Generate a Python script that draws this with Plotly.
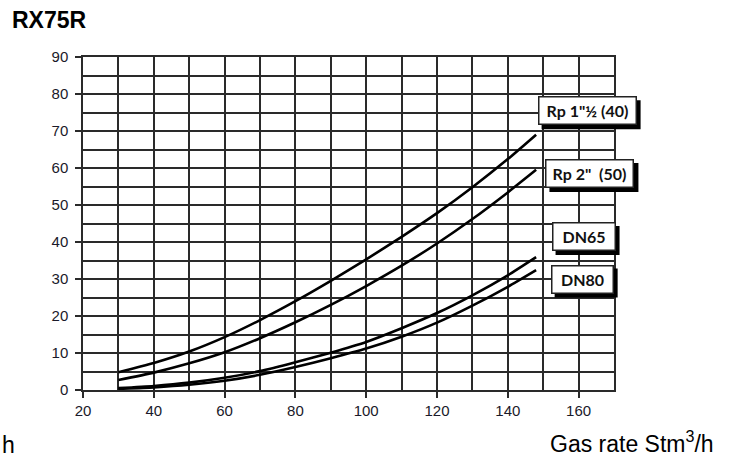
import plotly.graph_objects as go

gas_rate = [30, 40, 50, 60, 70, 80, 90, 100, 110, 120, 130, 140, 148]
rp_1_half_40 = [4.8, 7.3, 10.4, 14.3, 18.9, 24.0, 29.5, 35.3, 41.4, 47.8, 54.8, 62.4, 69.0]
rp_2_50 = [2.7, 4.7, 7.2, 10.2, 14.0, 18.3, 23.0, 28.1, 33.6, 39.6, 46.2, 53.4, 59.5]
dn65 = [0.5, 1.1, 2.0, 3.3, 5.1, 7.5, 10.1, 13.0, 16.7, 20.8, 25.6, 31.0, 35.9]
dn80 = [0.3, 0.7, 1.4, 2.5, 4.1, 6.2, 8.6, 11.2, 14.4, 18.2, 22.8, 27.9, 32.4]

series_names = ['Rp 1"½ (40)', 'Rp 2"  (50)', 'DN65', 'DN80']
series_values = [rp_1_half_40, rp_2_50, dn65, dn80]
x_tick_labels = ["20", "40", "60", "80", "100", "120", "140", "160"]
y_tick_labels = ["0", "10", "20", "30", "40", "50", "60", "70", "80", "90"]

X_RANGE = [20, 170]
Y_RANGE = [0, 90]

# label box centres (data coords) and text-box widths
label_pos = [(162.4, 75.5, 96), (163.2, 58.5, 86), (161.4, 41.5, 61), (161.0, 30.0, 60)]

fig = go.Figure()
for name, vals in zip(series_names, series_values):
    fig.add_trace(go.Scatter(x=gas_rate, y=vals, mode="lines", name=name,
                             line=dict(color="black", width=2.6, shape="spline", smoothing=0.6),
                             showlegend=False, hoverinfo="skip"))

label_font = dict(family="Lato", size=16, color="#111")
box_h = 26
for name, (lx, ly, w) in zip(series_names, label_pos):
    W = w + 3
    H = box_h + 3
    px = (lx - X_RANGE[0]) / (X_RANGE[1] - X_RANGE[0])
    py = (ly - Y_RANGE[0]) / (Y_RANGE[1] - Y_RANGE[0])
    fig.add_shape(type="rect", xref="paper", yref="paper", xsizemode="pixel", ysizemode="pixel",
                  xanchor=px, yanchor=py, x0=-W / 2 + 4, x1=W / 2 + 4,
                  y0=-H / 2 - 4, y1=H / 2 - 4, fillcolor="black", line=dict(width=0),
                  layer="above")
    fig.add_annotation(x=lx, y=ly, xref="x", yref="y", text="<b>%s</b>" % name, showarrow=False,
                       width=w, height=box_h, borderpad=0, bgcolor="white", bordercolor="#222",
                       borderwidth=1.5, font=label_font)

fig.add_annotation(xref="paper", yref="paper", x=(716 - 83) / 531, y=(390 - 442) / 333,
                   xanchor="right", yanchor="middle", showarrow=False,
                   text="Gas rate Stm<sup>3</sup>/h",
                   font=dict(family="Liberation Sans", size=23, color="black"))
fig.add_annotation(xref="paper", yref="paper", x=(0 - 83) / 531, y=(390 - 445) / 333,
                   xanchor="left", yanchor="middle", showarrow=False, text="h",
                   font=dict(family="Liberation Sans", size=23, color="black"))

axis_common = dict(showgrid=True, gridcolor="#2a2a2a", gridwidth=1.5, showline=True,
                   linecolor="#2a2a2a", linewidth=1.5, mirror=True, ticks="outside",
                   ticklen=6, tickcolor="#2a2a2a", tickwidth=1.5, zeroline=False,
                   tickfont=dict(family="Liberation Sans", size=15, color="#1a1a2a"))

fig.update_xaxes(range=X_RANGE, tickmode="array",
                 tickvals=[int(t) for t in x_tick_labels], ticktext=x_tick_labels,
                 minor=dict(dtick=10, tick0=20, showgrid=True, gridcolor="#2a2a2a", gridwidth=1.5,
                            ticks=""),
                 **axis_common)
fig.update_yaxes(range=Y_RANGE, tickmode="array",
                 tickvals=[int(t) for t in y_tick_labels], ticktext=y_tick_labels,
                 minor=dict(dtick=5, tick0=0, showgrid=True, gridcolor="#2a2a2a", gridwidth=1.5,
                            ticks=""),
                 ticklabelstandoff=4,
                 **axis_common)

fig.update_layout(
    width=734, height=462,
    margin=dict(l=83, r=120, t=57, b=72),
    paper_bgcolor="white", plot_bgcolor="white",
    title=dict(text="<b>RX75R</b>", x=12 / 734, xanchor="left", xref="container",
               y=1 - 20 / 462, yanchor="middle",
               font=dict(family="Liberation Sans", size=23, color="black")),
)

fig.write_html("out.html", config={"displayModeBar": False},
               post_script="document.body.style.margin='0';")
